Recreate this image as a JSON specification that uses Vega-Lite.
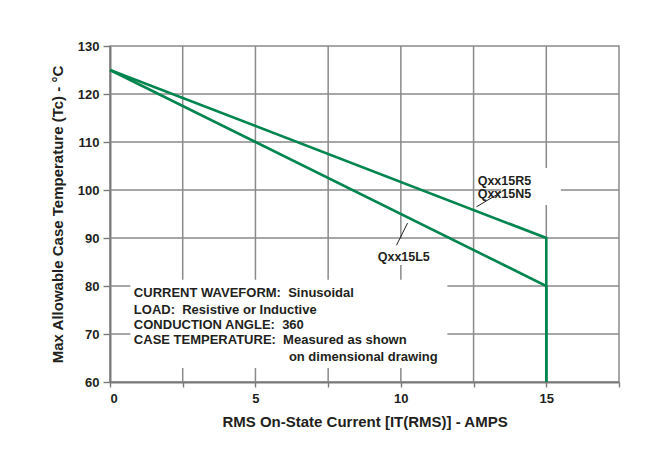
{
  "$schema": "https://vega.github.io/schema/vega-lite/v6.json",
  "width": 509,
  "height": 336,
  "autosize": {"type": "none"},
  "padding": {"left": 110, "top": 46, "right": 34, "bottom": 86},
  "background": "white",
  "config": {
    "view": {"stroke": "#8a8a8a", "strokeWidth": 1.5},
    "font": "Liberation Sans",
    "axis": {
      "grid": false,
      "labelFont": "Liberation Sans",
      "titleFont": "Liberation Sans",
      "labelFontWeight": "bold",
      "titleFontWeight": "bold",
      "labelColor": "#231f20",
      "titleColor": "#231f20",
      "domainColor": "#7a7a7a",
      "domainWidth": 2,
      "tickColor": "#7a7a7a",
      "tickWidth": 1.4
    }
  },
  "datasets": {
    "xgrid": [{"v": 2.5}, {"v": 5}, {"v": 7.5}, {"v": 10}, {"v": 12.5}, {"v": 15}],
    "ygrid": [{"v": 70}, {"v": 80}, {"v": 90}, {"v": 100}, {"v": 110}, {"v": 120}],
    "curves": [
      {"series": "R5/N5", "current": 0, "temp": 125, "step": 1},
      {"series": "R5/N5", "current": 15, "temp": 90, "step": 2},
      {"series": "R5/N5", "current": 15, "temp": 60, "step": 3},
      {"series": "L5", "current": 0, "temp": 125, "step": 1},
      {"series": "L5", "current": 15, "temp": 80, "step": 2},
      {"series": "L5", "current": 15, "temp": 60, "step": 3}
    ],
    "leaders": [
      {"id": "a", "current": 12.6, "temp": 96.5},
      {"id": "a", "current": 13.46, "temp": 99.6},
      {"id": "b", "current": 10.23, "temp": 93.1},
      {"id": "b", "current": 9.85, "temp": 88.5}
    ],
    "labels": [
      {"text": "Qxx15R5", "current": 13.56, "temp": 101.9, "align": "left"},
      {"text": "Qxx15N5", "current": 13.56, "temp": 99.2, "align": "left"},
      {"text": "Qxx15L5", "current": 10.1, "temp": 86.0, "align": "center"}
    ],
    "notes": [
      {"text": "CURRENT WAVEFORM:\u00a0 Sinusoidal", "current": 0.82, "temp": 78.5},
      {"text": "LOAD:\u00a0 Resistive or Inductive", "current": 0.82, "temp": 75.0},
      {"text": "CONDUCTION ANGLE:\u00a0 360", "current": 0.82, "temp": 71.9},
      {"text": "CASE TEMPERATURE:\u00a0 Measured as shown", "current": 0.82, "temp": 68.75},
      {"text": "on dimensional drawing", "current": 6.15, "temp": 65.2}
    ]
  },
  "layer": [
    {
      "data": {"name": "xgrid"},
      "mark": {"type": "rule", "color": "#8a8a8a", "strokeWidth": 1.5},
      "encoding": {
        "x": {"field": "v", "type": "quantitative", "scale": {"domain": [0, 17.5], "nice": false, "zero": false},
          "axis": {
            "grid": false,
            "values": [0, 2.5, 5, 7.5, 10, 12.5, 15, 17.5],
            "labelExpr": "datum.value % 5 === 0 && datum.value < 17 ? datum.label : ''",
            "labelFontSize": 13,
            "labelPadding": 5,
            "tickSize": 5,
            "title": "RMS On-State Current [IT(RMS)] - AMPS",
            "titleFontSize": 15,
            "titlePadding": 9
          }
        }
      }
    },
    {
      "data": {"name": "ygrid"},
      "mark": {"type": "rule", "color": "#8a8a8a", "strokeWidth": 1.5},
      "encoding": {
        "y": {"field": "v", "type": "quantitative", "scale": {"domain": [60, 130], "nice": false, "zero": false},
          "axis": {
            "grid": false,
            "values": [60, 70, 80, 90, 100, 110, 120, 130],
            "labelFontSize": 13,
            "labelPadding": 4,
            "tickSize": 7,
            "title": "Max Allowable Case Temperature (Tc) - °C",
            "titleFontSize": 15,
            "titlePadding": 12
          }
        }
      }
    },
    {
      "data": {"values": [{}]},
      "mark": {"type": "rect", "fill": "white"},
      "encoding": {
        "x": {"datum": 0.7, "type": "quantitative"},
        "x2": {"datum": 11.6},
        "y": {"datum": 62.9, "type": "quantitative"},
        "y2": {"datum": 81.3}
      }
    },
    {
      "data": {"values": [{}]},
      "mark": {"type": "rect", "fill": "white"},
      "encoding": {
        "x": {"datum": 13.45, "type": "quantitative"},
        "x2": {"datum": 15.5},
        "y": {"datum": 96.9, "type": "quantitative"},
        "y2": {"datum": 104.6}
      }
    },
    {
      "data": {"values": [{}]},
      "mark": {"type": "rect", "fill": "white"},
      "encoding": {
        "x": {"datum": 9.1, "type": "quantitative"},
        "x2": {"datum": 11.1},
        "y": {"datum": 84.4, "type": "quantitative"},
        "y2": {"datum": 89.8}
      }
    },
    {
      "data": {"name": "curves"},
      "mark": {"type": "line", "color": "#00854f", "strokeWidth": 2.6, "strokeJoin": "miter"},
      "encoding": {
        "x": {"field": "current", "type": "quantitative"},
        "y": {"field": "temp", "type": "quantitative"},
        "detail": {"field": "series"},
        "order": {"field": "step"}
      }
    },
    {
      "data": {"name": "leaders"},
      "mark": {"type": "line", "color": "#231f20", "strokeWidth": 1},
      "encoding": {
        "x": {"field": "current", "type": "quantitative"},
        "y": {"field": "temp", "type": "quantitative"},
        "detail": {"field": "id"}
      }
    },
    {
      "data": {"name": "labels"},
      "mark": {"type": "text", "fontWeight": "bold", "fontSize": 12.5, "color": "#231f20", "baseline": "middle", "font": "Liberation Sans"},
      "encoding": {
        "x": {"field": "current", "type": "quantitative"},
        "y": {"field": "temp", "type": "quantitative"},
        "text": {"field": "text"},
        "align": {"field": "align"}
      }
    },
    {
      "data": {"name": "notes"},
      "mark": {"type": "text", "fontWeight": "bold", "fontSize": 13, "color": "#231f20", "baseline": "middle", "align": "left", "font": "Liberation Sans"},
      "encoding": {
        "x": {"field": "current", "type": "quantitative"},
        "y": {"field": "temp", "type": "quantitative"},
        "text": {"field": "text"}
      }
    }
  ]
}
